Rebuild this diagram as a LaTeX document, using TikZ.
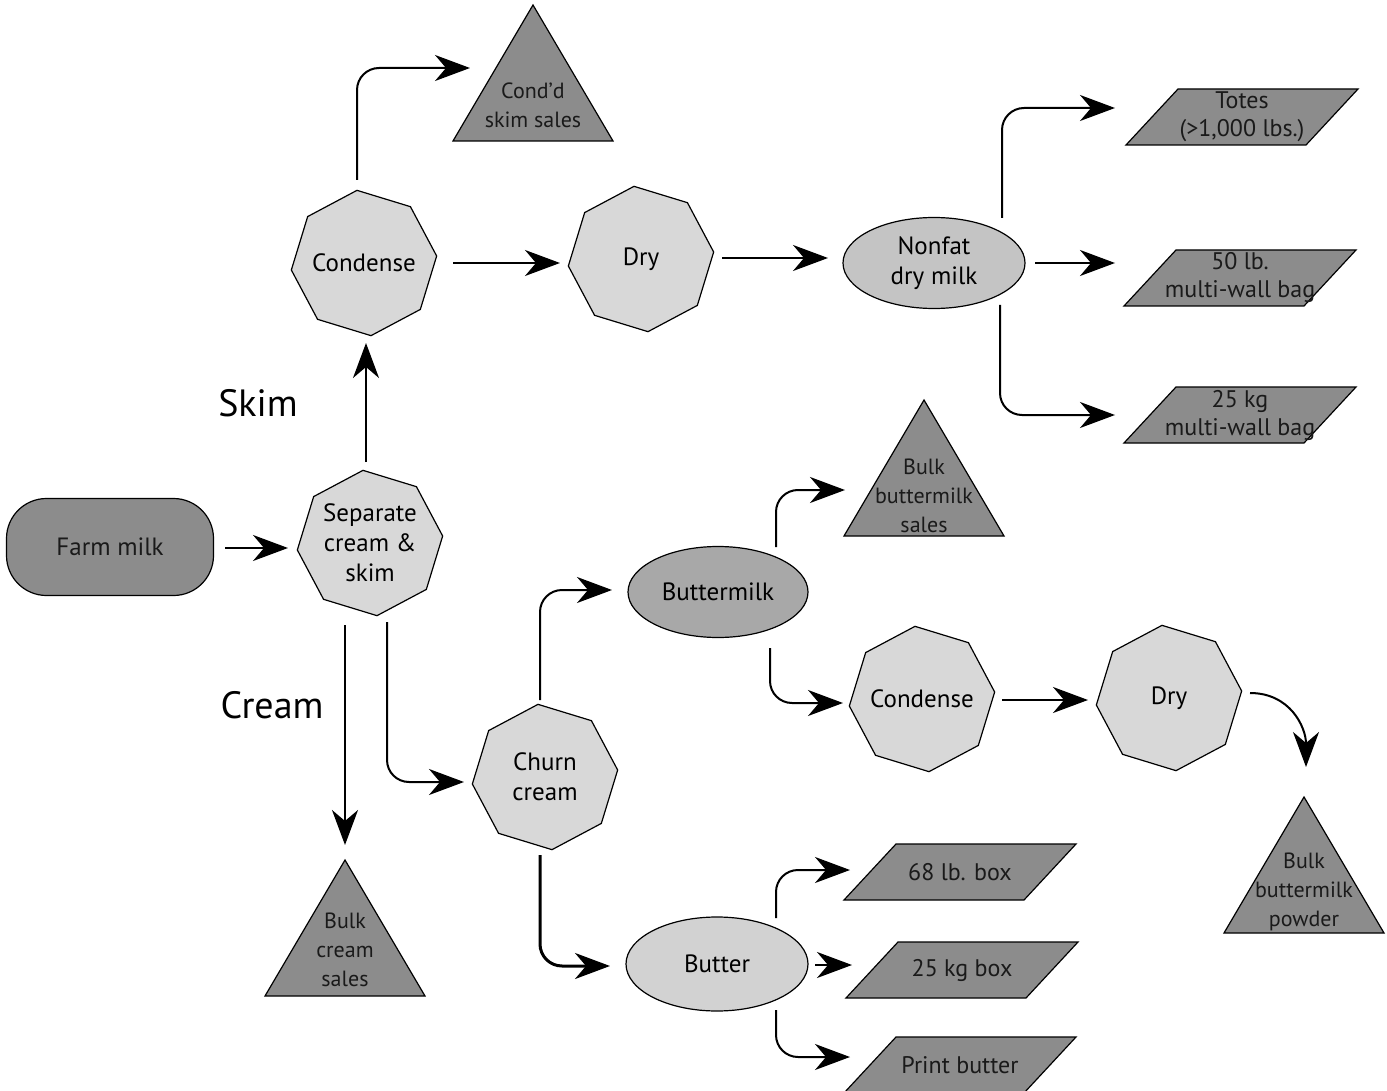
\documentclass[tikz,border=0pt]{standalone}
\usepackage{fontspec}
\setmainfont{PT Sans}
\usetikzlibrary{shapes.geometric,arrows.meta,calc}
\definecolor{darkfill}{HTML}{8C8C8C}
\definecolor{octfill}{HTML}{D8D8D8}
\definecolor{nonfatfill}{HTML}{C4C4C4}
\definecolor{bmfill}{HTML}{A8A8A8}
\definecolor{butterfill}{HTML}{D2D2D2}
\definecolor{dtextc}{HTML}{1A1A1A}
\tikzset{
  oct/.style={regular polygon, regular polygon sides=8, shape border rotate=28,
    minimum size=146pt, inner sep=0pt, draw=black, line width=1.2pt, fill=octfill,
    font=\fontsize{25}{30}\selectfont, align=center},
  ell/.style={ellipse, minimum width=182pt, minimum height=91pt, inner sep=0pt,
    draw=black, line width=1.2pt, font=\fontsize{25}{30}\selectfont, align=center},
  darkshape/.style={draw=black, line width=1.2pt, fill=darkfill},
  tritext/.style={font=\fontsize{22}{29}\selectfont, align=center, text=dtextc, inner sep=0pt},
  pgtext/.style={font=\fontsize{24}{28}\selectfont, align=center, text=dtextc, inner sep=0pt},
  lbl/.style={font=\fontsize{38}{44}\selectfont, inner sep=0pt},
  arr/.style={draw=black, line width=2pt, rounded corners=22pt,
    -{Stealth[length=35pt,width=26pt,inset=11pt]}},
}
\newcommand\tri[5]{% name, apex x, apex y, text y offset, text
  \coordinate (#1) at (#2,#3);
  \path[darkshape] (#2,#3) -- (#2+80,#3+136) -- (#2-80,#3+136) -- cycle;
  \node[tritext] (#1-t) at (#2,#3+#4) {#5};}
\newcommand\para[4]{% name, cx, cy, text
  \path[darkshape] (#2-64,#3-28) -- (#2+116,#3-28) -- (#2+64,#3+28) -- (#2-116,#3+28) -- cycle;
  \node[pgtext] (#1) at (#2,#3) {#4};}
\newcommand\nb[1]{\makebox[0pt][c]{#1}}
\begin{document}
\begin{tikzpicture}[x=1pt,y=-1pt]
\useasboundingbox[fill=white] (0,0) rectangle (1387,1091);

% nodes
\node[draw=black, line width=1.2pt, fill=darkfill, rounded corners=40pt,
  minimum width=207pt, minimum height=97pt, inner sep=0pt,
  font=\fontsize{25}{30}\selectfont, text=dtextc] (farm) at (110,547) {Farm milk};
\node[oct] (sep) at (370,543) {Separate\\cream \&\\skim};
\node[oct] (cond1) at (364,263) {\nb{Condense}};
\node[oct] (dry1) at (641,259) {Dry};
\node[ell, fill=nonfatfill] (nonfat) at (934,263) {Nonfat\\dry milk};
\node[ell, fill=bmfill, minimum width=180pt] (bm) at (718,592) {Buttermilk};
\node[oct] (cond2) at (922,699) {\nb{Condense}};
\node[oct] (dry2) at (1169,698) {Dry};
\node[oct] (churn) at (545,777) {Churn\\cream};
\node[ell, fill=butterfill, minimum height=94pt] (butter) at (717,964) {Butter};

\tri{cdd}{533}{5}{100}{Cond'd\\skim sales}
\tri{bms}{924}{400}{96}{Bulk\\buttermilk\\sales}
\tri{bmp}{1304}{797}{95}{Bulk\\buttermilk\\powder}
\tri{bcs}{345}{860}{90}{Bulk\\cream\\sales}

\para{totes}{1242}{117}{Totes\\(>1,000 lbs.)}
\para{bag50}{1240}{278}{50 lb.\\multi-wall bag}
\para{bag25}{1240}{415}{25 kg\\multi-wall bag}
\para{box68}{960}{872}{68 lb. box}
\para{box25}{962}{970}{25 kg box}
\para{print}{960}{1065}{Print butter}

\node[lbl] (skim) at (258,403) {Skim};
\node[lbl] (cream) at (272,705) {Cream};

% connectors
\draw[arr] ($(farm)+(115,1)$) -- ($(sep)+(-82,5)$);
\draw[arr] ($(sep)+(-4,-81)$) -- ($(cond1)+(2,80)$);
\draw[arr] ($(cond1)+(-7,-83)$) |- ($(cdd)+(-63,63)$);
\draw[arr] ($(cond1)+(89,0)$) -- ($(dry1)+(-81,4)$);
\draw[arr] ($(dry1)+(81,-1)$) -- ($(nonfat)+(-106,-5)$);
\draw[arr] ($(nonfat)+(68,-45)$) |- ($(totes)+(-127,-9)$);
\draw[arr] ($(nonfat)+(101,0)$) -- ($(bag50)+(-125,-15)$);
\draw[arr] ($(nonfat)+(66,42)$) |- ($(bag25)+(-125,0)$);
\draw[arr] ($(sep)+(-25,82)$) -- ($(bcs)+(0,-15)$);
\draw[arr] ($(sep)+(17,79)$) |- ($(churn)+(-81,5)$);
\draw[arr] ($(churn)+(-5,-77)$) |- ($(bm)+(-106,-2)$);
\draw[arr] ($(bm)+(58,-45)$) |- ($(bms)+(-79,90)$);
\draw[arr] ($(bm)+(52,56)$) |- ($(cond2)+(-79,4)$);
\draw[arr] ($(cond2)+(80,1)$) -- ($(dry2)+(-81,2)$);
\draw[arr, rounded corners=0pt] ($(dry2)+(81,-5)$) to[out=0, in=90, looseness=1.1] ($(bmp)+(2,-30)$);
\draw[arr, line width=3pt] ($(churn)+(-5,78)$) |- ($(butter)+(-107,2)$);
\draw[arr] ($(butter)+(59,-46)$) |- ($(box68)+(-110,-2)$);
\draw[arr] ($(butter)+(98,1)$) -- ($(box25)+(-110,-5)$);
\draw[arr] ($(butter)+(59,46)$) |- ($(print)+(-110,-8)$);
\end{tikzpicture}
\end{document}
